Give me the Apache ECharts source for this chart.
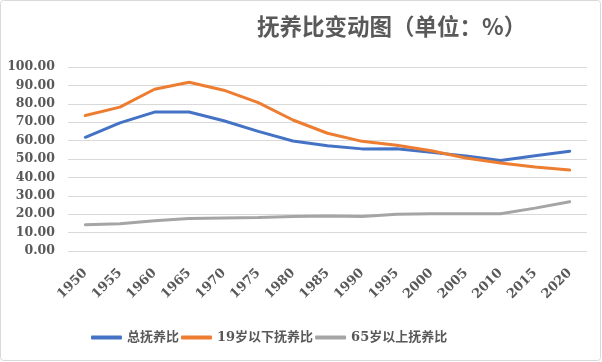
<!DOCTYPE html>
<html><head><meta charset="utf-8">
<script src="https://cdn.jsdelivr.net/npm/echarts@6/dist/echarts.min.js"></script>
<style>html,body{margin:0;padding:0;background:#fff}#c{width:602px;height:362px}</style>
</head><body><div id="c"></div>
<script>
const categories = ['1950','1955','1960','1965','1970','1975','1980','1985','1990','1995','2000','2005','2010','2015','2020'];
const totalRatio = [61.8, 69.6, 75.5, 75.5, 70.8, 65.0, 59.8, 57.2, 55.5, 55.6, 53.6, 51.6, 49.2, 51.8, 54.2];
const youthRatio = [73.6, 78.2, 87.9, 91.7, 87.4, 80.6, 71.2, 64.0, 59.6, 57.5, 54.5, 50.5, 47.8, 45.6, 44.0];
const elderRatio = [14.3, 14.8, 16.5, 17.6, 18.0, 18.2, 18.8, 19.0, 18.7, 20.0, 20.2, 20.3, 20.2, 23.3, 26.8];
const seriesNames = ['总抚养比', '19岁以下抚养比', '65岁以上抚养比'];
const yTicks = {min: 0, max: 100, interval: 10};

const serif = 'DejaVu Serif';
const labelFont = {fontFamily: serif, fontWeight: 'bold', color: '#595959'};
const chart = echarts.init(document.getElementById('c'), null, {renderer: 'canvas'});
chart.setOption({
  animation: false,
  color: ['#4472C4', '#ED7D31', '#A5A5A5'],
  graphic: [{type: 'rect', shape: {x: 0.5, y: 0.5, width: 600, height: 360, r: 3}, style: {fill: 'none', stroke: '#D9D9D9', lineWidth: 1}, z: -1}],
  title: {
    text: '抚养比变动图（单位：%）', left: 252, top: 10,
    textStyle: {fontFamily: 'Noto Sans CJK SC', fontWeight: 'bold', fontSize: 22.5, color: '#595959'}
  },
  legend: {
    data: seriesNames, top: 326, left: 86, itemWidth: 31, itemHeight: 4, itemGap: 2,
    icon: 'roundRect',
    textStyle: {fontSize: 13, fontFamily: 'DejaVu Serif, Noto Sans CJK SC', fontWeight: 'bold', color: '#595959'}
  },
  grid: {left: 68, right: 15, top: 67, bottom: 111, containLabel: false},
  xAxis: {
    type: 'category', data: categories, boundaryGap: true,
    axisLine: {show: false}, axisTick: {show: false},
    axisLabel: Object.assign({rotate: 45, fontSize: 13, margin: 20, interval: 0}, labelFont)
  },
  yAxis: {
    type: 'value', min: yTicks.min, max: yTicks.max, interval: yTicks.interval,
    axisLine: {show: false}, axisTick: {show: false},
    splitLine: {lineStyle: {color: '#D9D9D9', width: 1}},
    axisLabel: Object.assign({fontSize: 12.5, margin: 13, formatter: v => v.toFixed(2)}, labelFont)
  },
  series: [
    {name: seriesNames[0], type: 'line', data: totalRatio, symbol: 'none', lineStyle: {width: 3, cap: 'round'}},
    {name: seriesNames[1], type: 'line', data: youthRatio, symbol: 'none', lineStyle: {width: 3, cap: 'round'}},
    {name: seriesNames[2], type: 'line', data: elderRatio, symbol: 'none', lineStyle: {width: 3, cap: 'round'}}
  ]
});
</script></body></html>
